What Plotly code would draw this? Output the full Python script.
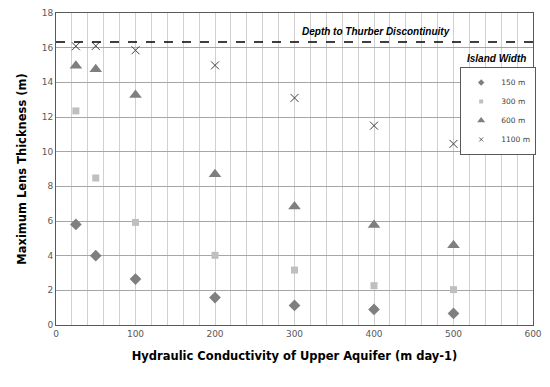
import plotly.graph_objects as go

# hydraulic conductivity (m/day)
k = [25, 50, 100, 200, 300, 400, 500]

# maximum lens thickness (m) per island width
w150 = [5.8, 4.0, 2.65, 1.58, 1.13, 0.9, 0.67]
w300 = [12.35, 8.48, 5.92, 4.02, 3.17, 2.27, 2.04]
w600 = [14.95, 14.75, 13.27, 8.7, 6.83, 5.77, 4.6]
w1100 = [16.08, 16.1, 15.85, 14.98, 13.1, 11.5, 10.45]

thurber_depth = 16.33

series = [
    ("150 m", w150, "diamond", "#7f7f7f", 9),
    ("300 m", w300, "square", "#bfbfbf", 7),
    ("600 m", w600, "triangle-up", "#7f7f7f", 11),
    ("1100 m", w1100, "x-thin", "#404040", 8),
]

fig = go.Figure()
for name, vals, sym, col, sz in series:
    mk = dict(symbol=sym, color=col, size=sz)
    if sym == "x-thin":
        mk["line"] = dict(color=col, width=1)
    fig.add_trace(go.Scatter(x=k, y=vals, mode="markers", name=name, marker=mk,
                             showlegend=False))
    # smaller legend marker, like the original
    lm = dict(mk, size=max(4, sz - 4))
    if sym == "x-thin":
        lm["line"] = dict(color=col, width=0.8)
    fig.add_trace(go.Scatter(x=[None], y=[None], mode="markers", name=name, marker=lm))

fig.add_shape(type="line", x0=0, x1=600, y0=thurber_depth, y1=thurber_depth,
              xref="x", yref="y", line=dict(color="black", width=1.5, dash="dash"))

note_font = dict(family="Liberation Sans", size=10, color="black")
fig.add_annotation(x=0.67, y=16.95, xref="paper", yref="y", text="<b><i>Depth to Thurber Discontinuity</i></b>",
                   showarrow=False, xanchor="center", font=note_font)
fig.add_annotation(x=0.99, y=0.83, xref="paper", yref="paper", text="<b><i>Island Width</i></b>",
                   showarrow=False, xanchor="right", yanchor="bottom", font=note_font)

# page body adds 8px offset, so the figure is 8px smaller and margins shifted
fig.update_layout(
    width=542, height=379,
    margin=dict(l=48, r=17, t=5, b=62),
    paper_bgcolor="white", plot_bgcolor="white",
    font=dict(family="DejaVu Sans", size=9, color="#595959"),
    legend=dict(x=0.927, y=0.827, xanchor="center", yanchor="top",
                bordercolor="#595959", borderwidth=1, bgcolor="white",
                font=dict(size=7.5, color="#404040"), itemwidth=30, tracegroupgap=0,
                itemsizing="trace"),
    xaxis=dict(range=[0, 600], dtick=100, showgrid=True, gridcolor="#d0d0d0", gridwidth=1,
               minor=dict(dtick=20, showgrid=True, gridcolor="#d0d0d0", gridwidth=1),
               showline=True, linecolor="#595959", mirror=True, zeroline=False,
               ticks="", automargin=False,
               title=dict(text="<b>Hydraulic Conductivity of Upper Aquifer (m day-1)</b>",
                          font=dict(size=11.5, color="black"), standoff=14)),
    yaxis=dict(range=[0, 18], dtick=2, showgrid=True, gridcolor="#a6a6a6", gridwidth=1,
               showline=True, linecolor="#595959", mirror=True, zeroline=False,
               automargin=False,
               title=dict(text="<b>Maximum Lens Thickness (m)</b>",
                          font=dict(size=11.5, color="black"), standoff=12)),
    showlegend=True,
)

fig.write_html("out.html")
